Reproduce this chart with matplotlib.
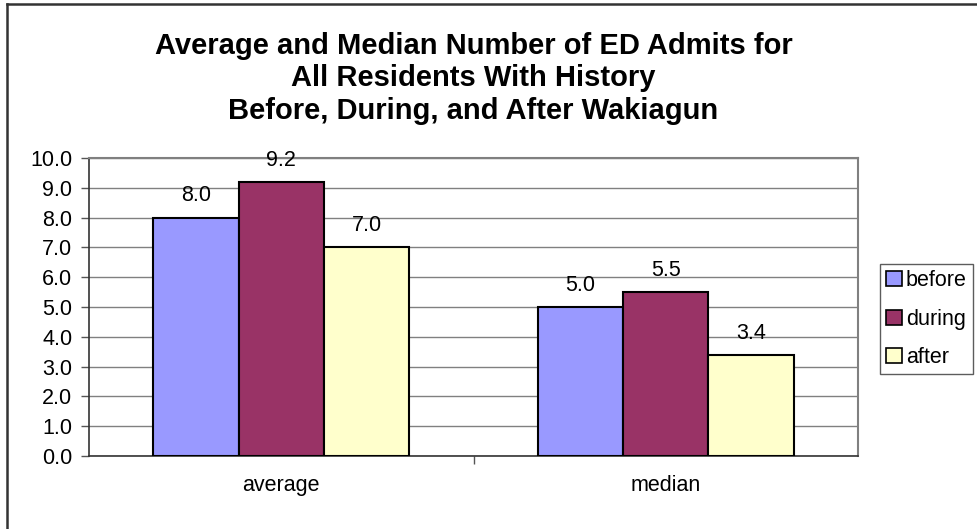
import numpy as np
import matplotlib
matplotlib.use("Agg")
import matplotlib.pyplot as plt
from matplotlib.lines import Line2D
from matplotlib.patches import Patch

plt.rcParams['font.family'] = ['Liberation Sans', 'DejaVu Sans']

categories = ["average", "median"]
series = ["before", "during", "after"]
before = [8.0, 5.0]
during = [9.2, 5.5]
after = [7.0, 3.4]
colors = ["#9999FF", "#993366", "#FFFFCC"]
yticks = np.arange(0, 10.01, 1.0)

fs = 15.5

fig = plt.figure(figsize=(9.78, 5.29), dpi=100)
ax = fig.add_axes([89 / 978, 1 - 456 / 529, (858 - 89) / 978, (456 - 158) / 529])

# gap width 150% -> each bar is 1/4.5 of a category
w = 1 / 4.5
x = np.arange(len(categories))
for i, (vals, c) in enumerate(zip([before, during, after], colors)):
    bars = ax.bar(x + (i - 1) * w, vals, w, color=c, edgecolor="black", linewidth=1.5, zorder=3)
    for b, v in zip(bars, vals):
        ax.annotate(f"{v:.1f}", (b.get_x() + b.get_width() / 2, v), xytext=(0, 8),
                    textcoords="offset points", ha="center", va="bottom", fontsize=fs, zorder=4)

ax.set_xlim(-0.5, 1.5)
ax.set_ylim(0, 10)
ax.set_yticks(yticks)
ax.set_yticklabels([f"{t:.1f}" for t in yticks], fontsize=fs)
ax.yaxis.grid(True, color="#808080", linewidth=1, zorder=0)

# category labels centred, tick marks between categories
ax.set_xticks([0.5])
ax.set_xticklabels([""])
ax.set_xticks(x, minor=True)
ax.set_xticklabels(categories, minor=True, fontsize=fs)
ax.tick_params(axis="x", which="minor", length=0, pad=14)
ax.tick_params(axis="x", which="major", length=6, color="#555555", width=1)
ax.tick_params(axis="y", length=6, color="#555555", width=1, pad=6)

for s in ["top", "right"]:
    ax.spines[s].set_color("#808080")
    ax.spines[s].set_linewidth(1.5)
for s in ["left", "bottom"]:
    ax.spines[s].set_color("#333333")
    ax.spines[s].set_linewidth(1.2)

fig.suptitle("Average and Median Number of ED Admits for\nAll Residents With History\nBefore, During, and After Wakiagun",
             x=(89 + 858) / 2 / 978, y=1 - 32 / 529, fontsize=21, fontweight="bold", linespacing=1.2, va="top")

handles = [Patch(facecolor=c, edgecolor="black", linewidth=1.2) for c in colors]
leg = fig.legend(handles, series, loc="upper left", bbox_to_anchor=(880 / 978, 1 - 264 / 529),
                 fontsize=fs, frameon=True, fancybox=False, handlelength=0.7, handleheight=0.7,
                 handletextpad=0.2, labelspacing=0.8, borderpad=0.3, borderaxespad=0)
leg.get_frame().set_edgecolor("#333333")
leg.get_frame().set_linewidth(1)

# chart area border (left and top edges only)
fig.add_artist(Line2D([7.5 / 978, 7.5 / 978], [0, 1 - 4 / 529], transform=fig.transFigure,
                      color="#333333", linewidth=1.8))
fig.add_artist(Line2D([7 / 978, 1], [1 - 4 / 529, 1 - 4 / 529], transform=fig.transFigure,
                      color="#333333", linewidth=1.8))

fig.savefig("out.png", dpi=100)
